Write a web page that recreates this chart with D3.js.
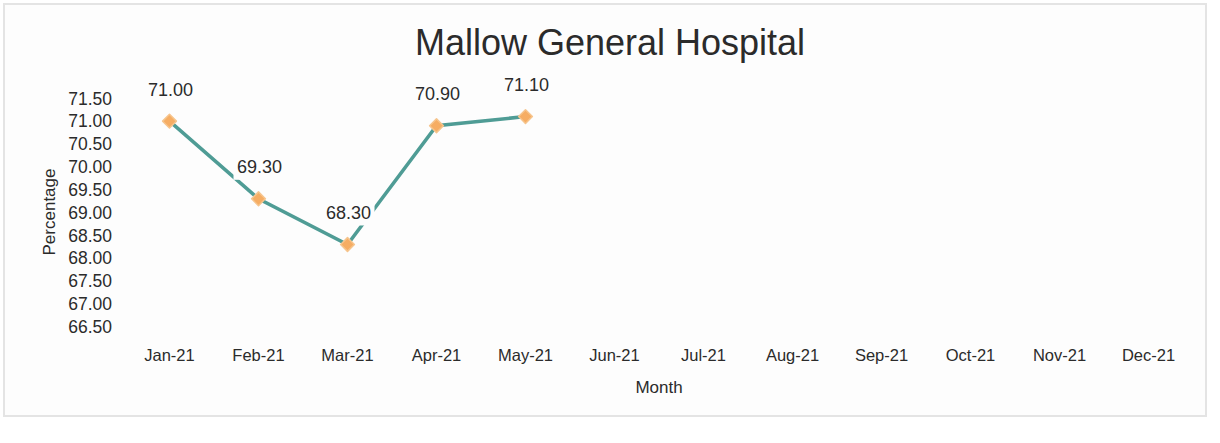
<!DOCTYPE html>
<html>
<head>
<meta charset="utf-8">
<script src="https://cdn.jsdelivr.net/npm/d3@7"></script>
<style>
  body { margin: 0; background: #fff; }
  text { font-family: "Liberation Sans", Arial, sans-serif; fill: #2b2b2b; }
</style>
</head>
<body>
<div id="chart"></div>
<script>
var months = ["Jan-21", "Feb-21", "Mar-21", "Apr-21", "May-21", "Jun-21",
  "Jul-21", "Aug-21", "Sep-21", "Oct-21", "Nov-21", "Dec-21"];
var values = [71.00, 69.30, 68.30, 70.90, 71.10];
var yTicks = [66.5, 67, 67.5, 68, 68.5, 69, 69.5, 70, 70.5, 71, 71.5];

var svgWidth = 1220;
var svgHeight = 443;

var svg = d3.select("#chart")
  .append("svg")
  .attr("width", svgWidth)
  .attr("height", svgHeight);

// chart frame
svg.append("rect")
  .attr("x", 4).attr("y", 4)
  .attr("width", 1202).attr("height", 412)
  .attr("fill", "#fdfdfd")
  .attr("stroke", "#e4e4e4")
  .attr("stroke-width", 2);

// scales
var x = d3.scaleBand().domain(months).range([125, 1193]);
var y = d3.scaleLinear().domain([66.5, 71.5]).range([326.7, 98.3]);

// y tick labels
svg.append("g")
  .selectAll("text")
  .data(yTicks)
  .enter().append("text")
  .attr("x", 112)
  .attr("y", function(d) { return y(d); })
  .attr("dy", "0.36em")
  .attr("text-anchor", "end")
  .style("font-size", "17.5px")
  .text(function(d) { return d.toFixed(2); });

// x tick labels
svg.append("g")
  .selectAll("text")
  .data(months)
  .enter().append("text")
  .attr("x", function(d) { return x(d) + x.bandwidth() / 2; })
  .attr("y", 361)
  .attr("text-anchor", "middle")
  .style("font-size", "16.5px")
  .text(function(d) { return d; });

// titles
svg.append("text")
  .attr("x", 610).attr("y", 55)
  .attr("text-anchor", "middle")
  .style("font-size", "36px")
  .text("Mallow General Hospital");

svg.append("text")
  .attr("x", 659).attr("y", 393)
  .attr("text-anchor", "middle")
  .style("font-size", "17px")
  .text("Month");

svg.append("text")
  .attr("transform", "translate(55,212) rotate(-90)")
  .attr("text-anchor", "middle")
  .style("font-size", "17px")
  .text("Percentage");

// line
var cx = function(d, i) { return x(months[i]) + x.bandwidth() / 2; };
var line = d3.line()
  .x(cx)
  .y(function(d) { return y(d); });

svg.append("path")
  .datum(values)
  .attr("d", line)
  .attr("fill", "none")
  .attr("stroke", "#4f9c95")
  .attr("stroke-width", 3.5);

// markers
svg.append("g")
  .selectAll("path")
  .data(values)
  .enter().append("path")
  .attr("d", d3.symbol().type(d3.symbolSquare).size(95))
  .attr("transform", function(d, i) { return "translate(" + cx(d, i) + "," + y(d) + ") rotate(45)"; })
  .attr("fill", "#f6ad63")
  .attr("stroke", "#f6c48c")
  .attr("stroke-width", 1.5)
  .attr("stroke-linejoin", "round");

// data labels with background
var labels = svg.append("g")
  .selectAll("g")
  .data(values)
  .enter().append("g")
  .attr("transform", function(d, i) { return "translate(" + (cx(d, i) + 1) + "," + (y(d) - 32) + ")"; });

labels.append("rect")
  .attr("x", -26).attr("y", -13)
  .attr("width", 52).attr("height", 26)
  .attr("fill", "#fdfdfd");

labels.append("text")
  .attr("text-anchor", "middle")
  .attr("dy", "0.36em")
  .style("font-size", "18px")
  .text(function(d) { return d.toFixed(2); });
</script>
</body>
</html>
